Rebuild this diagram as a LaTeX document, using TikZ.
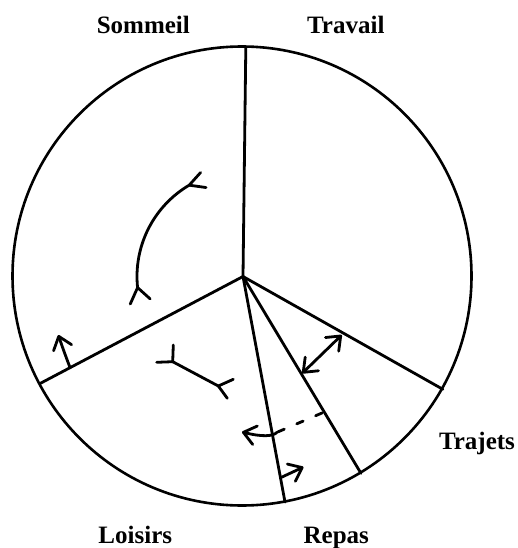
\documentclass[tikz,border=0pt]{standalone}
\usepackage{fontspec}
\setmainfont{Liberation Serif}
\usetikzlibrary{arrows.meta,calc}
\tikzset{
  lbl/.style={anchor=base,font=\bfseries\fontsize{25}{28}\selectfont,inner sep=0pt},
  stroke/.style={line width=2.8pt,line cap=round,line join=round},
  barb/.tip={Straight Barb[length=12pt,width=19pt,round]},
}
\begin{document}
\begin{tikzpicture}[x=1pt,y=-1pt]
\useasboundingbox (0,0) rectangle (518,548);
\coordinate (C) at (243,276.5);
% circle
\draw[stroke,line width=2.6pt] (242,276) circle[radius=229.5pt];
% rays
\coordinate (Rtop) at ($(C)+(89.3:229.5pt)$);
\coordinate (Rleft) at ($(C)+(207.8:229.5pt)$);
\coordinate (Rrl) at ($(C)+(-79.45:229.5pt)$);
\coordinate (Rtr) at ($(C)+(-59.06:229.5pt)$);
\coordinate (Rtt) at ($(C)+(-29.44:229.5pt)$);
\draw[stroke] (C) -- (Rtop);
\draw[stroke] (C) -- (Rleft);
\draw[stroke] (C) -- (Rrl);
\draw[stroke] (C) -- (Rtr);
\draw[stroke] (C) -- (Rtt);
% labels
\node[lbl] (som) at (143.3,33.3) {Sommeil};
\node[lbl] (tra) at (345.8,33.3) {Travail};
\node[lbl] (loi) at (135.3,543.3) {Loisirs};
\node[lbl] (rep) at (336.3,543.3) {Repas};
\node[lbl] (trj) at (477,449) {Trajets};
% arc with forked ends in Sommeil
\coordinate (V1) at ($(C)+(120.5:106pt)$);
\coordinate (V2) at ($(C)+(186:106pt)$);
\draw[stroke] (V2) arc[start angle=186,end angle=120.5,radius=106pt];
\draw[stroke] ($(V1)+(48:17pt)$) -- (V1) -- ($(V1)+(-8:17pt)$);
\draw[stroke] ($(V2)+(246:18pt)$) -- (V2) -- ($(V2)+(-42:17pt)$);
% forked segment in Loisirs
\coordinate (L1) at (172.7,361.7);
\coordinate (L2) at (218.3,386);
\draw[stroke] (L1) -- (L2);
\draw[stroke] (173.3,345) -- (L1) -- (156.7,362.3);
\draw[stroke] (233.3,379.3) -- (L2) -- (227.3,398.3);
% arrow from left ray upwards
\coordinate (A0) at (70,367.5);
\coordinate (A1) at (58.3,335);
\draw[stroke,-barb] (A0) .. controls (66,357) and (62,346) .. (A1);
% double arrow Travail/Trajets
\coordinate (D1) at (302.2,373.3);
\coordinate (D2) at (341.7,335);
\draw[stroke,barb-barb] (D1) -- (D2);
% dashed then solid arrow
\coordinate (E0) at (322,413);
\coordinate (E1) at (277,432.3);
\coordinate (E2) at (242,432);
\draw[stroke,dash pattern=on 7pt off 13.5pt] (E0) -- (E1);
\draw[stroke,-barb] (E1) .. controls (273,436.5) and (262,437) .. (E2);
% Repas arrow
\coordinate (F0) at (281,477.5);
\coordinate (F1) at (303.5,467);
\draw[stroke,-barb] (F0) -- (F1);
\end{tikzpicture}
\end{document}
